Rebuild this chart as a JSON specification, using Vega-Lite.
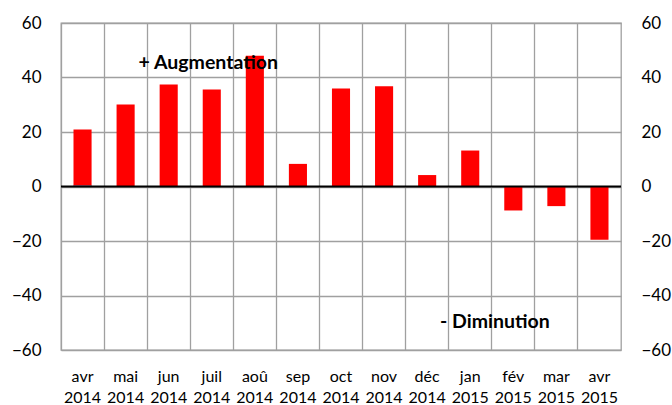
{
  "$schema": "https://vega.github.io/schema/vega-lite/v6.json",
  "width": 560,
  "height": 327,
  "autosize": {"type": "none"},
  "padding": {"left": 61, "top": 23, "right": 51, "bottom": 55},
  "background": "white",
  "config": {
    "font": "Lato",
    "view": {"stroke": "#a0a0a0", "strokeWidth": 1.3},
    "axis": {"labelFont": "Lato", "labelFontSize": 16, "labelColor": "#000000", "domain": false, "ticks": false, "gridColor": "#a0a0a0", "gridWidth": 1.3, "gridOpacity": 1, "title": null}
  },
  "datasets": {
    "bars": [
      {"month": "avr 2014", "value": 20.9, "base": 0.4},
      {"month": "mai 2014", "value": 30.1, "base": 0},
      {"month": "jun 2014", "value": 37.4, "base": 0},
      {"month": "juil 2014", "value": 35.6, "base": 0},
      {"month": "aoû 2014", "value": 48.0, "base": 0},
      {"month": "sep 2014", "value": 8.3, "base": 0},
      {"month": "oct 2014", "value": 36.0, "base": 0},
      {"month": "nov 2014", "value": 36.8, "base": 0},
      {"month": "déc 2014", "value": 4.2, "base": 0},
      {"month": "jan 2015", "value": 13.2, "base": 0},
      {"month": "fév 2015", "value": -8.8, "base": 0},
      {"month": "mar 2015", "value": -7.2, "base": 0},
      {"month": "avr 2015", "value": -19.5, "base": 0}
    ],
    "notes": [
      {"month": "mai 2014", "y": 45.3, "text": "+ Augmentation"},
      {"month": "déc 2014", "y": -49.7, "text": "- Diminution"}
    ]
  },
  "layer": [
    {
      "data": {"name": "bars"},
      "mark": {"type": "bar", "color": "#ff0000", "width": {"band": 0.42}},
      "encoding": {
        "x": {
          "field": "month", "type": "nominal", "sort": null,
          "scale": {"paddingInner": 0, "paddingOuter": 0},
          "axis": {"orient": "bottom", "labelAngle": 0, "grid": true, "bandPosition": 0, "labelExpr": "split(datum.label, ' ')", "labelPadding": 18, "labelLineHeight": 21, "labelBaseline": "top"}
        },
        "y": {
          "field": "value", "type": "quantitative",
          "scale": {"domain": [-60, 60], "nice": false},
          "axis": {"values": [-60, -40, -20, 0, 20, 40, 60], "grid": true, "labelPadding": 20, "labelFontSize": 17}
        }
      }
    },
    {
      "data": {"name": "bars"},
      "transform": [{"filter": "datum.base > 0"}],
      "mark": {"type": "bar", "color": "#8c8cbf", "width": {"band": 0.42}},
      "encoding": {
        "x": {"field": "month", "type": "nominal", "sort": null},
        "y": {"field": "base", "type": "quantitative", "axis": null}
      }
    },
    {
      "data": {"values": [{"z": 0}]},
      "mark": {"type": "rule", "color": "#000000", "strokeWidth": 2},
      "encoding": {"y": {"field": "z", "type": "quantitative", "axis": null}}
    },
    {
      "data": {"name": "notes"},
      "mark": {"type": "text", "align": "left", "baseline": "middle", "fontSize": 19.5, "fontWeight": "bold", "font": "Lato", "color": "#000000"},
      "encoding": {
        "x": {"field": "month", "type": "nominal", "sort": null, "bandPosition": 0.8},
        "y": {"field": "y", "type": "quantitative", "axis": null},
        "text": {"field": "text"}
      }
    },
    {
      "data": {"values": [{"z": 0}]},
      "mark": {"type": "rule", "opacity": 0},
      "encoding": {
        "y": {"field": "z", "type": "quantitative", "axis": {"orient": "right", "values": [-60, -40, -20, 0, 20, 40, 60], "grid": false, "labelPadding": 20, "labelAlign": "left", "labelFontSize": 17}}
      }
    }
  ],
  "resolve": {"scale": {"y": "shared"}, "axis": {"y": "independent"}}
}
